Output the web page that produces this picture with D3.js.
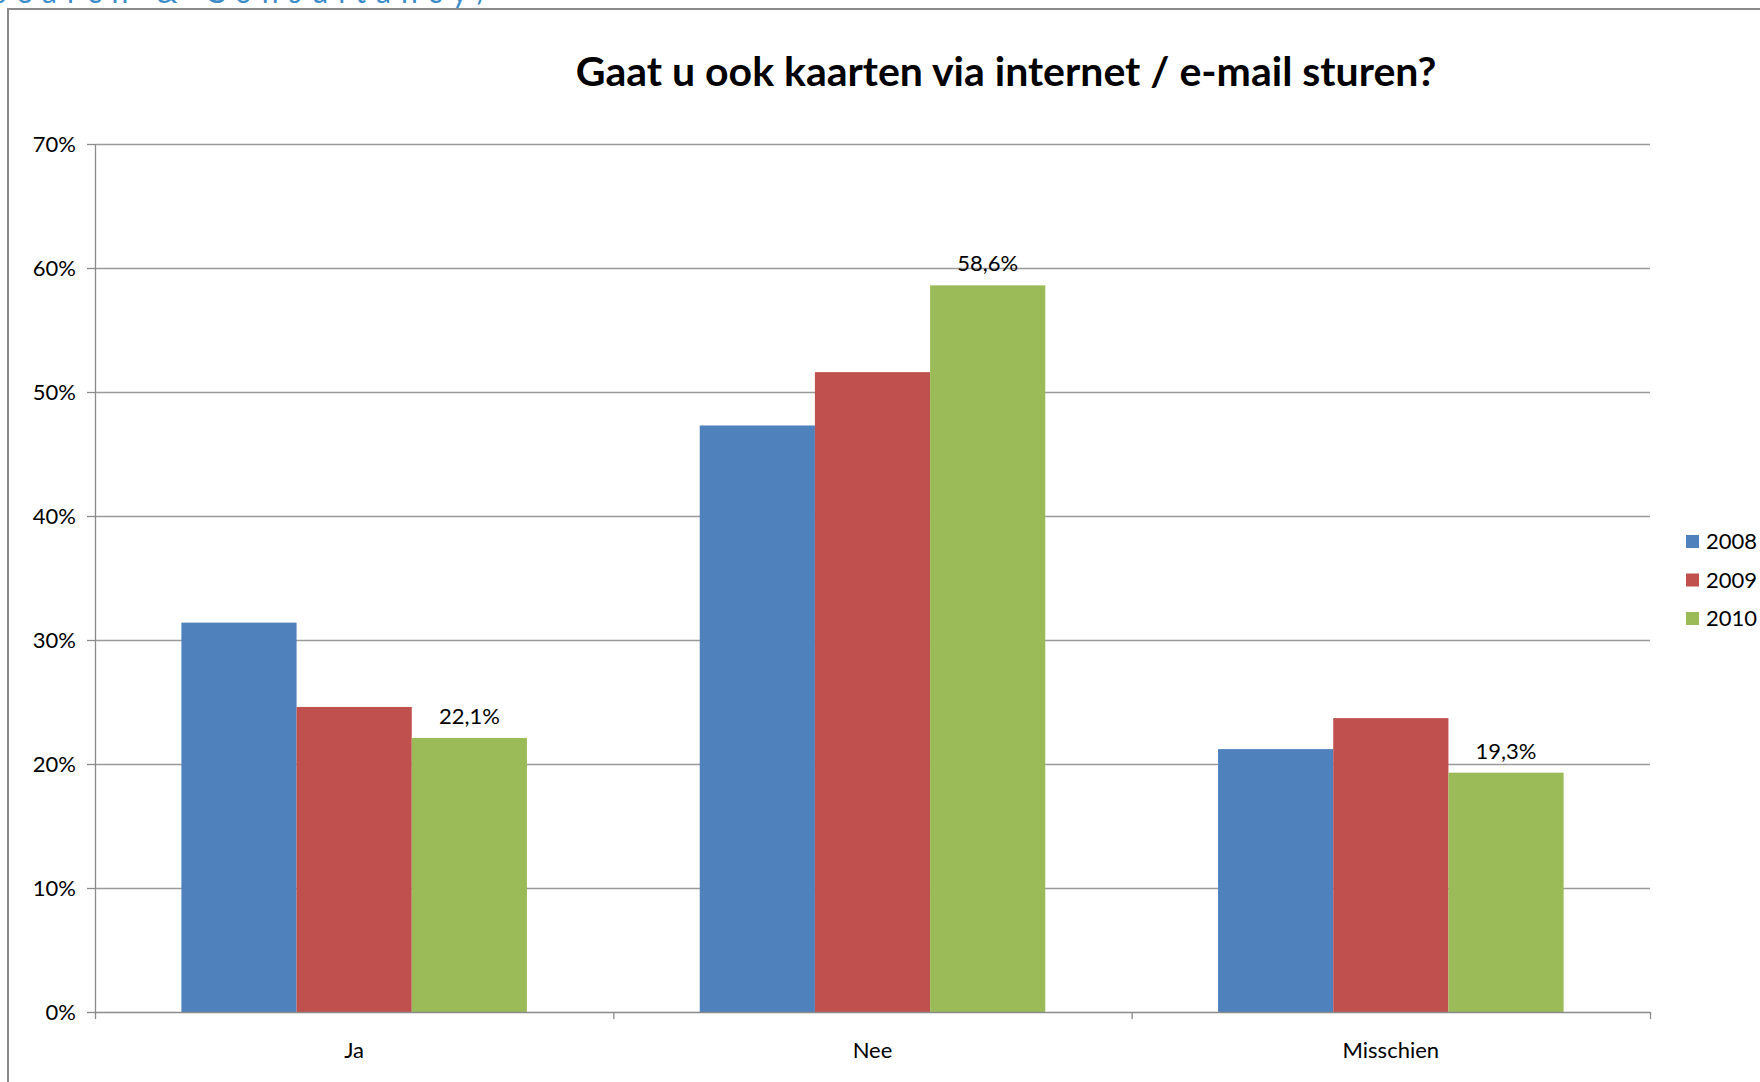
<!DOCTYPE html>
<html>
<head>
<meta charset="utf-8">
<script src="https://cdnjs.cloudflare.com/ajax/libs/d3/7.8.5/d3.min.js"></script>
<style>
  body { margin: 0; background: #fff; }
  svg { display: block; font-family: Lato, "Open Sans", sans-serif; }
</style>
</head>
<body>
<svg id="chart"></svg>
<script>
// data
var categories = ["Ja", "Nee", "Misschien"];
var years = ["2008", "2009", "2010"];
var values2008 = [31.4, 47.3, 21.2];
var values2009 = [24.6, 51.6, 23.7];
var values2010 = [22.1, 58.6, 19.3];
var yTicks = [0, 10, 20, 30, 40, 50, 60, 70];
var colors = ["#4F81BD", "#C0504D", "#9BBB59"];

var width = 1760, height = 1082;
var svg = d3.select("#chart").attr("width", width).attr("height", height);

var margin = {top: 144, left: 95, bottom: 70, right: 110};
var chartWidth = width - margin.left - margin.right;
var chartHeight = height - margin.top - margin.bottom;

// cut-off header text above the frame
svg.append("text")
  .attr("x", 500).attr("y", 3)
  .attr("text-anchor", "end")
  .attr("fill", "#3B8CC9")
  .attr("font-size", 30)
  .attr("letter-spacing", 10)
  .text("Research & Consultancy/");

// outer frame of the chart
svg.append("rect")
  .attr("x", 8).attr("y", 9)
  .attr("width", width + 20).attr("height", height + 20)
  .attr("fill", "#fff")
  .attr("stroke", "#8a8a8a")
  .attr("stroke-width", 2);

svg.append("text")
  .attr("x", 1006).attr("y", 86)
  .attr("text-anchor", "middle")
  .attr("font-weight", "bold")
  .attr("font-size", 41)
  .text("Gaat u ook kaarten via internet / e-mail sturen?");

var g = svg.append("g").attr("transform", "translate(" + [margin.left, margin.top] + ")");

var x0 = d3.scaleBand().domain(categories).range([0, chartWidth]).paddingInner(0).paddingOuter(0);
var x1 = d3.scaleBand().domain(years).range([0, x0.bandwidth()]).paddingInner(0).paddingOuter(0.75);
var y = d3.scaleLinear().domain([0, 70]).range([chartHeight, 0]);

// gridlines
g.append("g").selectAll("line").data(yTicks.slice(1)).enter().append("line")
  .attr("x1", 0).attr("x2", chartWidth)
  .attr("y1", function(d){ return y(d) + 0.5 }).attr("y2", function(d){ return y(d) + 0.5 })
  .attr("stroke", "#9a9a9a").attr("stroke-width", 1.3);

// bars
var series = [values2008, values2009, values2010];
years.forEach(function(yr, si){
  g.append("g").selectAll("rect").data(series[si]).enter().append("rect")
    .attr("x", function(d, i){ return x0(categories[i]) + x1(yr) })
    .attr("width", x1.bandwidth())
    .attr("y", function(d){ return y(d) })
    .attr("height", function(d){ return chartHeight - y(d) })
    .attr("fill", colors[si]);
});

// data labels for 2010
g.append("g").selectAll("text").data(values2010).enter().append("text")
  .attr("x", function(d, i){ return x0(categories[i]) + x1("2010") + x1.bandwidth() / 2 })
  .attr("y", function(d){ return y(d) - 14 })
  .attr("text-anchor", "middle")
  .attr("font-size", 22)
  .text(function(d){ return d.toFixed(1).replace(".", ",") + "%" });

// y axis
var yAxis = d3.axisLeft(y).tickValues(yTicks).tickSize(8).tickPadding(11)
  .tickFormat(function(d){ return d + "%" });
var ya = g.append("g").attr("class", "axis y").call(yAxis);
ya.select(".domain").attr("stroke", "#8a8a8a").attr("stroke-width", 1.3).attr("d", "M0.5,0V" + chartHeight);
ya.selectAll(".tick line").attr("stroke", "#8a8a8a").attr("stroke-width", 1.3);
ya.selectAll("text").attr("font-size", 22).attr("fill", "#000").attr("font-family", "Lato, sans-serif");

// x axis
var xb = g.append("g").attr("transform", "translate(0," + chartHeight + ")");
xb.append("line").attr("x1", 0).attr("x2", chartWidth).attr("y1", 0.5).attr("y2", 0.5)
  .attr("stroke", "#8a8a8a").attr("stroke-width", 1.3);
var bounds = [0].concat(categories.map(function(c){ return x0(c) + x0.bandwidth() }));
xb.selectAll(".btick").data(bounds).enter().append("line")
  .attr("x1", function(d){ return d + 0.5 }).attr("x2", function(d){ return d + 0.5 })
  .attr("y1", 0).attr("y2", 7)
  .attr("stroke", "#8a8a8a").attr("stroke-width", 1.3);
xb.selectAll(".clabel").data(categories).enter().append("text")
  .attr("x", function(d){ return x0(d) + x0.bandwidth() / 2 })
  .attr("y", 46)
  .attr("text-anchor", "middle")
  .attr("font-size", 22)
  .text(function(d){ return d });

// legend
var legend = svg.append("g").attr("transform", "translate(1686,535)");
years.forEach(function(yr, i){
  var row = legend.append("g").attr("transform", "translate(0," + (i * 38.5) + ")");
  row.append("rect").attr("width", 13).attr("height", 13).attr("fill", colors[i]);
  row.append("text").attr("x", 20).attr("y", 14).attr("font-size", 22).text(yr);
});
</script>
</body>
</html>
